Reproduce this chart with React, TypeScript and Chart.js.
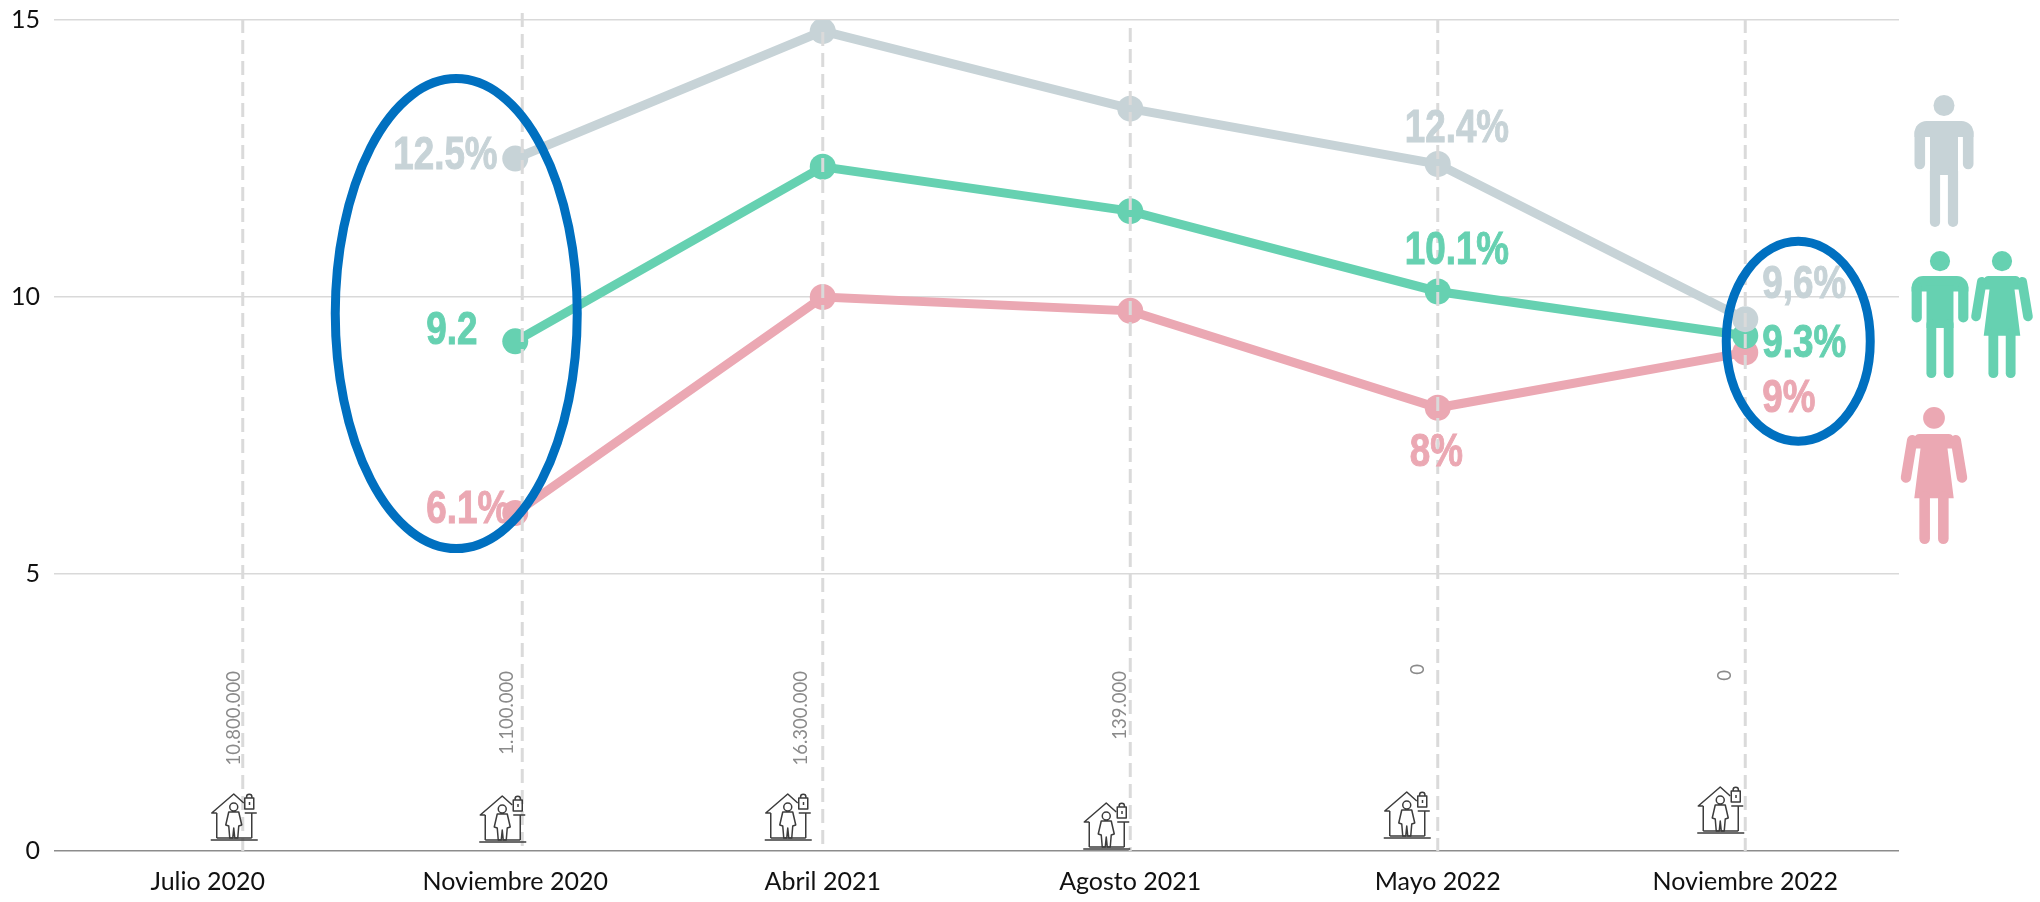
import React, { useEffect, useRef } from "react";
import { Chart, registerables } from "chart.js";

Chart.register(...registerables);

const categories = ["Julio 2020", "Noviembre 2020", "Abril 2021", "Agosto 2021", "Mayo 2022", "Noviembre 2022"];
const hombres = [null, 12.5, 14.8, 13.4, 12.4, 9.6];
const total = [null, 9.2, 12.35, 11.55, 10.1, 9.3];
const mujeres = [null, 6.1, 10.0, 9.75, 8.0, 9.0];
const hombresLabels = [null, "12.5%", null, null, "12.4%", "9,6%"];
const totalLabels = [null, "9.2", null, null, "10.1%", "9.3%"];
const mujeresLabels = [null, "6.1%", null, null, "8%", "9%"];
const confinados = ["10.800.000", "1.100.000", "16.300.000", "139.000", "0", "0"];
const yTicks = [0, 5, 10, 15];

const GREY = "#C7D3D7";
const GREEN = "#66D1B1";
const PINK = "#EBA8B3";
const BLUE = "#0070C0";
const SANS = "Lato, 'Open Sans', sans-serif";

// Left edge of each value label relative to its point, with baseline offset.
const labelOffsets: Record<string, number[][]> = {
  hombres: [[0, 0], [-122, 10], [0, 0], [0, 0], [-33, -22], [17, -21]],
  total: [[0, 0], [-89, 3], [0, 0], [0, 0], [-33, -27], [17, 21]],
  mujeres: [[0, 0], [-89, 10], [0, 0], [0, 0], [-28, 58], [17, 60]],
};
const dashShift = [35, 7, 0, 0, 0, 0];
const dashTop = [19, 13, 32, 28, 19, 19];
const countX = [26, -8, -22, -10, -20, -20];
const countTop = [671, 671, 671, 671, 664, 670];
const houseShift = [26, -13, -35, -24, -31, -25];
const houseBase = [840, 842, 840, 849, 838, 833];

function drawHouse(ctx: CanvasRenderingContext2D, cx: number, base: number) {
  ctx.save();
  ctx.translate(cx, base);
  ctx.strokeStyle = "#3c3c3c";
  ctx.lineWidth = 1.5;
  ctx.lineJoin = "round";
  ctx.beginPath();
  ctx.moveTo(-23, 0); ctx.lineTo(24, 0);
  ctx.moveTo(-17, -2); ctx.lineTo(18, -2);
  ctx.moveTo(-17, -2); ctx.lineTo(-17, -27);
  ctx.moveTo(18, -2); ctx.lineTo(18, -27);
  ctx.moveTo(-17, -27); ctx.lineTo(-22, -27); ctx.lineTo(0, -46); ctx.lineTo(10, -37);
  ctx.moveTo(11, -27); ctx.lineTo(23, -27);
  ctx.stroke();
  // Figure inside the house
  ctx.beginPath();
  ctx.arc(0, -33, 4, 0, Math.PI * 2);
  ctx.moveTo(-5, -28); ctx.lineTo(5, -28); ctx.lineTo(8, -15); ctx.lineTo(5, -14);
  ctx.lineTo(4, -2); ctx.lineTo(1, -2); ctx.lineTo(0, -12); ctx.lineTo(-1, -2);
  ctx.lineTo(-4, -2); ctx.lineTo(-5, -14); ctx.lineTo(-8, -15); ctx.closePath();
  ctx.stroke();
  // Padlock
  ctx.beginPath();
  ctx.rect(11, -42, 9, 11);
  ctx.moveTo(13, -42); ctx.arc(15.5, -43, 2.7, Math.PI, 0); ctx.lineTo(18, -42);
  ctx.stroke();
  ctx.fillStyle = "#3c3c3c";
  ctx.fillRect(15, -38, 1.5, 3);
  ctx.restore();
}

function limb(ctx: CanvasRenderingContext2D, x1: number, y1: number, x2: number, y2: number, w: number) {
  ctx.lineWidth = w;
  ctx.lineCap = "round";
  ctx.beginPath();
  ctx.moveTo(x1, y1);
  ctx.lineTo(x2, y2);
  ctx.stroke();
}

function drawMan(ctx: CanvasRenderingContext2D, cx: number, top: number, height: number, color: string) {
  ctx.save();
  ctx.translate(cx, top);
  ctx.scale(height / 132, height / 132);
  ctx.fillStyle = color;
  ctx.strokeStyle = color;
  ctx.beginPath();
  ctx.arc(0, 10.5, 10.5, 0, Math.PI * 2);
  ctx.fill();
  ctx.beginPath();
  ctx.roundRect(-29.5, 26, 59, 16, [12, 12, 0, 0]);
  ctx.fill();
  ctx.fillRect(-14, 36, 28, 44);
  limb(ctx, -24.2, 38, -24.2, 69, 10.6);
  limb(ctx, 24.2, 38, 24.2, 69, 10.6);
  limb(ctx, -9, 76, -9, 127, 10.2);
  limb(ctx, 9, 76, 9, 127, 10.2);
  ctx.restore();
}

function drawWoman(ctx: CanvasRenderingContext2D, cx: number, top: number, height: number, color: string) {
  ctx.save();
  ctx.translate(cx, top);
  ctx.scale(height / 132, height / 132);
  ctx.fillStyle = color;
  ctx.strokeStyle = color;
  ctx.beginPath();
  ctx.arc(0, 10.5, 10.5, 0, Math.PI * 2);
  ctx.fill();
  ctx.beginPath();
  ctx.moveTo(-19, 30);
  ctx.quadraticCurveTo(-18, 26, -14, 26);
  ctx.lineTo(14, 26);
  ctx.quadraticCurveTo(18, 26, 19, 30);
  ctx.lineTo(20, 40);
  ctx.lineTo(13, 40);
  ctx.lineTo(19, 88);
  ctx.lineTo(-19, 88);
  ctx.lineTo(-13, 40);
  ctx.lineTo(-20, 40);
  ctx.closePath();
  ctx.fill();
  limb(ctx, -21, 32, -27, 68, 10);
  limb(ctx, 21, 32, 27, 68, 10);
  limb(ctx, -9, 86, -9, 127, 10.2);
  limb(ctx, 9, 86, 9, 127, 10.2);
  ctx.restore();
}

function condensedText(ctx: CanvasRenderingContext2D, text: string, x: number, y: number, color: string) {
  ctx.save();
  ctx.translate(x, y);
  ctx.scale(0.8, 1);
  ctx.font = "700 46px 'Liberation Sans Narrow', 'Liberation Sans', sans-serif";
  ctx.fillStyle = color;
  ctx.strokeStyle = color;
  ctx.lineWidth = 1;
  ctx.textAlign = "left";
  ctx.textBaseline = "alphabetic";
  ctx.fillText(text, 0, 0);
  ctx.strokeText(text, 0, 0);
  ctx.restore();
}

// Dashed category guides, value labels, confinement counts, icons and highlight rings.
const overlay = {
  id: "overlay",
  afterDatasetsDraw(chart: any) {
    const { ctx, scales } = chart;
    const x = scales.x;
    const y = scales.y;
    const bottom = y.getPixelForValue(0);
    ctx.save();

    ctx.strokeStyle = "#DADADA";
    ctx.lineWidth = 3;
    ctx.setLineDash([14, 7]);
    categories.forEach((_, i) => {
      const px = x.getPixelForValue(i) + dashShift[i];
      ctx.beginPath();
      ctx.moveTo(px, dashTop[i]);
      ctx.lineTo(px, bottom);
      ctx.stroke();
    });
    ctx.setLineDash([]);

    const groups: [string, (string | null)[], (number | null)[], string][] = [
      ["hombres", hombresLabels, hombres, GREY],
      ["total", totalLabels, total, GREEN],
      ["mujeres", mujeresLabels, mujeres, PINK],
    ];
    groups.forEach(([key, labels, values, color]) => {
      labels.forEach((text, i) => {
        if (text === null) return;
        const [dx, dy] = labelOffsets[key][i];
        condensedText(ctx, text, x.getPixelForValue(i) + dx, y.getPixelForValue(values[i] as number) + dy, color);
      });
    });

    confinados.forEach((text, i) => {
      ctx.save();
      ctx.translate(x.getPixelForValue(i) + countX[i], countTop[i]);
      ctx.rotate(-Math.PI / 2);
      ctx.font = `400 18.5px ${SANS}`;
      ctx.fillStyle = "#8a8a8a";
      ctx.textAlign = "right";
      ctx.textBaseline = "middle";
      ctx.fillText(text, 0, 0);
      ctx.restore();
      drawHouse(ctx, x.getPixelForValue(i) + houseShift[i], houseBase[i]);
    });

    ctx.strokeStyle = BLUE;
    ctx.lineWidth = 9;
    ctx.beginPath();
    ctx.ellipse(x.getPixelForValue(1) - 59, y.getPixelForValue(9.7), 121, 235, 0, 0, Math.PI * 2);
    ctx.stroke();
    ctx.beginPath();
    ctx.ellipse(x.getPixelForValue(5) + 53, y.getPixelForValue(9.2), 72, 100, 0, 0, Math.PI * 2);
    ctx.stroke();

    drawMan(ctx, 1944, 95, 132, GREY);
    drawMan(ctx, 1940, 251, 127, GREEN);
    drawWoman(ctx, 2002, 251, 127, GREEN);
    drawWoman(ctx, 1934, 407, 137, PINK);
    ctx.restore();
  },
};

function series(label: string, data: (number | null)[], color: string) {
  return {
    label,
    data,
    borderColor: color,
    backgroundColor: color,
    borderWidth: 9,
    pointRadius: 13,
    pointHoverRadius: 13,
    pointBorderWidth: 0,
    tension: 0,
    spanGaps: false,
  };
}

export default function App() {
  const ref = useRef<HTMLCanvasElement>(null);
  useEffect(() => {
    if (!ref.current) return;
    const chart = new Chart(ref.current, {
      type: "line",
      data: {
        labels: categories,
        datasets: [series("Hombres", hombres, GREY), series("Total", total, GREEN), series("Mujeres", mujeres, PINK)],
      },
      options: {
        animation: false,
        responsive: false,
        maintainAspectRatio: false,
        layout: { padding: { top: 20, right: 141, left: 0, bottom: 0 } },
        plugins: { legend: { display: false }, tooltip: { enabled: false } },
        scales: {
          x: {
            offset: true,
            grid: { display: false },
            border: { display: false },
            afterFit(axis: any) { axis.height = 51; },
            ticks: { color: "#111", font: { family: SANS, size: 25 }, padding: 8, maxRotation: 0, autoSkip: false },
          },
          y: {
            min: 0,
            max: 15,
            afterFit(axis: any) {
              axis.width = 54;
              axis.paddingTop = 0;
              axis.paddingBottom = 0;
            },
            afterBuildTicks(axis: any) { axis.ticks = yTicks.map((value) => ({ value })); },
            border: { display: false },
            grid: {
              drawTicks: false,
              lineWidth: 1.5,
              color: (c: any) => (c.tick.value === 0 ? "#8c8c8c" : "#D9D9D9"),
            },
            ticks: { color: "#111", font: { family: SANS, size: 25 }, padding: 14, align: "center" },
          },
        },
      },
      plugins: [overlay],
    } as any);
    return () => chart.destroy();
  }, []);
  return (
    <div style={{ position: "fixed", left: 0, top: 0, width: 2040, height: 902, background: "#fff" }}>
      <canvas ref={ref} width={2040} height={902} style={{ display: "block" }} />
    </div>
  );
}
